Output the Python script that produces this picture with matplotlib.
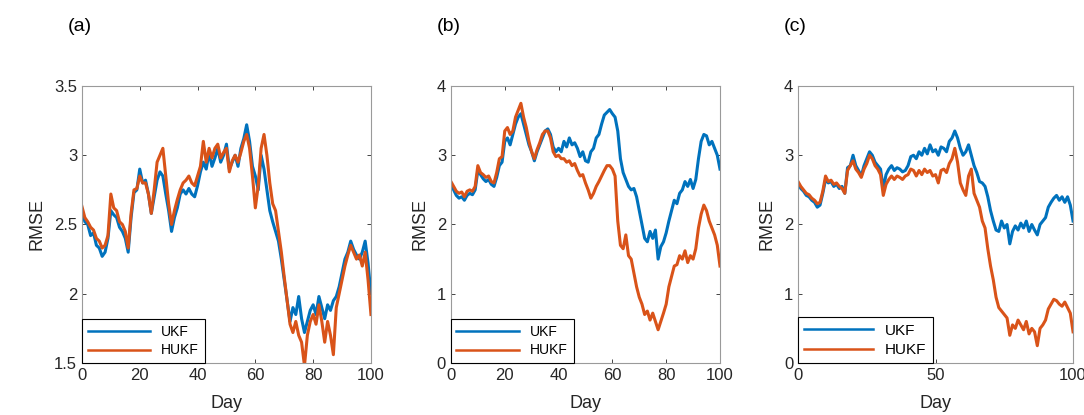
import numpy as np
import matplotlib.pyplot as plt

plt.rcParams['font.family'] = ['Liberation Sans', 'DejaVu Sans']

days = np.arange(0, 101)

# panel (a)
ukf_a = [2.60, 2.52, 2.50, 2.42, 2.44, 2.35, 2.33, 2.27, 2.30, 2.40,
         2.60, 2.57, 2.55, 2.48, 2.45, 2.40, 2.30, 2.55, 2.73, 2.75,
         2.90, 2.80, 2.82, 2.72, 2.58, 2.70, 2.82, 2.88, 2.85, 2.72,
         2.60, 2.45, 2.55, 2.62, 2.72, 2.75, 2.72, 2.76, 2.72, 2.70,
         2.78, 2.88, 2.95, 2.90, 3.02, 2.92, 2.98, 3.05, 2.95, 3.00,
         3.08, 2.90, 2.95, 3.00, 2.92, 3.05, 3.12, 3.22, 3.10, 2.92,
         2.85, 2.75, 3.00, 2.90, 2.75, 2.60, 2.52, 2.45, 2.38, 2.25,
         2.10, 1.95, 1.80, 1.90, 1.85, 1.98, 1.82, 1.72, 1.80, 1.88,
         1.92, 1.85, 1.98, 1.90, 1.82, 1.92, 1.88, 1.95, 1.98, 2.05,
         2.15, 2.25, 2.30, 2.38, 2.32, 2.28, 2.25, 2.30, 2.38, 2.22,
         2.00]
hukf_a = [2.63, 2.55, 2.52, 2.48, 2.46, 2.40, 2.38, 2.33, 2.35, 2.42,
          2.72, 2.62, 2.60, 2.52, 2.50, 2.45, 2.33, 2.58, 2.75, 2.76,
          2.85, 2.80, 2.80, 2.72, 2.58, 2.75, 2.95, 3.00, 3.05, 2.85,
          2.65, 2.50, 2.60, 2.68, 2.75, 2.80, 2.82, 2.85, 2.80, 2.78,
          2.85, 2.92, 3.10, 2.95, 3.05, 2.98, 3.05, 3.08, 2.98, 3.02,
          3.05, 2.88, 2.96, 3.00, 2.95, 3.02, 3.10, 3.15, 3.05, 2.85,
          2.62, 2.78, 3.05, 3.15, 3.00, 2.80, 2.65, 2.60, 2.45, 2.30,
          2.12, 1.95, 1.78, 1.72, 1.80, 1.70, 1.65, 1.48, 1.70, 1.80,
          1.85, 1.78, 1.92, 1.80, 1.65, 1.80, 1.70, 1.56, 1.90, 2.00,
          2.10, 2.20, 2.28, 2.35, 2.30, 2.25, 2.28, 2.20, 2.30, 2.10,
          1.85]

# panel (b)
ukf_b = [2.57, 2.50, 2.42, 2.38, 2.40, 2.35, 2.42, 2.45, 2.43, 2.50,
         2.78, 2.72, 2.66, 2.62, 2.65, 2.58, 2.55, 2.68, 2.85, 2.90,
         3.20, 3.25, 3.15, 3.30, 3.45, 3.55, 3.60, 3.45, 3.30, 3.15,
         3.05, 2.92, 3.05, 3.15, 3.25, 3.35, 3.38, 3.30, 3.12, 3.05,
         3.10, 3.05, 3.20, 3.12, 3.25, 3.15, 3.18, 3.10, 2.98, 3.05,
         2.92, 2.90, 3.05, 3.10, 3.25, 3.30, 3.45, 3.58, 3.62, 3.66,
         3.60, 3.55, 3.35, 2.95, 2.75, 2.65, 2.55, 2.50, 2.52, 2.40,
         2.20, 2.00, 1.80, 1.75, 1.90, 1.80, 1.92, 1.50, 1.68, 1.75,
         1.88, 2.05, 2.20, 2.35, 2.30, 2.45, 2.50, 2.62, 2.55, 2.65,
         2.52, 2.65, 2.95, 3.20, 3.30, 3.28, 3.15, 3.20, 3.10, 3.00,
         2.80]
hukf_b = [2.62, 2.55, 2.48, 2.45, 2.47, 2.40, 2.48, 2.50, 2.48, 2.55,
          2.85, 2.75, 2.72, 2.68, 2.70, 2.62, 2.60, 2.75, 2.95, 2.98,
          3.35, 3.40, 3.30, 3.35, 3.55, 3.65, 3.75, 3.55, 3.40, 3.20,
          3.05, 2.95, 3.08, 3.18, 3.30, 3.35, 3.35, 3.25, 3.05, 2.98,
          3.00, 2.95, 2.95, 2.90, 2.92, 2.85, 2.88, 2.78, 2.70, 2.72,
          2.60, 2.50, 2.38, 2.45, 2.55, 2.62, 2.70, 2.78, 2.85, 2.85,
          2.80, 2.70, 2.05, 1.70, 1.65, 1.85, 1.55, 1.50, 1.30, 1.10,
          0.95, 0.85, 0.70, 0.75, 0.62, 0.72, 0.60, 0.48, 0.60, 0.72,
          0.85, 1.10, 1.25, 1.40, 1.42, 1.55, 1.50, 1.62, 1.45, 1.55,
          1.50, 1.65, 1.95, 2.15, 2.28, 2.20, 2.05, 1.95, 1.85, 1.70,
          1.40]

# panel (c)
ukf_c = [2.60, 2.52, 2.48, 2.42, 2.40, 2.35, 2.32, 2.25, 2.28, 2.45,
         2.65, 2.60, 2.62, 2.55, 2.58, 2.52, 2.55, 2.45, 2.82, 2.85,
         3.00, 2.85, 2.78, 2.70, 2.85, 2.95, 3.05, 3.00, 2.90, 2.85,
         2.80, 2.52, 2.72, 2.80, 2.85, 2.78, 2.82, 2.80, 2.76, 2.78,
         2.85, 2.98, 3.00, 2.95, 3.05, 3.00, 3.10, 3.02, 3.15, 3.05,
         3.08, 3.00, 3.12, 3.10, 3.05, 3.20, 3.25, 3.35, 3.25, 3.10,
         3.00, 3.05, 3.15, 3.00, 2.85, 2.75, 2.62, 2.60, 2.55, 2.40,
         2.20, 2.05, 1.92, 1.90, 2.05, 1.95, 2.00, 1.72, 1.90, 1.98,
         1.92, 2.02, 1.95, 2.05, 1.90, 2.00, 1.92, 1.85, 2.00, 2.05,
         2.10, 2.25, 2.32, 2.38, 2.42, 2.35, 2.40, 2.32, 2.40, 2.28,
         2.05]
hukf_c = [2.62, 2.55, 2.50, 2.45, 2.43, 2.38, 2.35, 2.30, 2.32, 2.48,
          2.70, 2.62, 2.64, 2.58, 2.60, 2.55, 2.52, 2.45, 2.78, 2.85,
          2.92, 2.80, 2.75, 2.68, 2.80, 2.88, 3.00, 2.95, 2.85, 2.80,
          2.72, 2.42, 2.58, 2.65, 2.70, 2.65, 2.70, 2.68, 2.65, 2.70,
          2.72, 2.80, 2.78, 2.70, 2.78, 2.72, 2.80, 2.75, 2.78, 2.70,
          2.72, 2.60, 2.78, 2.80, 2.75, 2.88, 2.95, 3.10, 2.90, 2.60,
          2.50, 2.42, 2.70, 2.80, 2.45, 2.35, 2.25, 2.05, 1.95, 1.65,
          1.40, 1.20, 0.95, 0.80, 0.75, 0.70, 0.65, 0.40, 0.55, 0.50,
          0.62, 0.55, 0.48, 0.60, 0.42, 0.50, 0.45, 0.25, 0.50, 0.55,
          0.62, 0.78, 0.85, 0.92, 0.90, 0.85, 0.82, 0.88, 0.80, 0.72,
          0.45]

ukf_col = '#0072BD'
hukf_col = '#D95319'

fig = plt.figure(figsize=(10.84, 4.15), dpi=100)

panels = [
    ('(a)', [0.0756, 0.1253, 0.2666, 0.6675], ukf_a, hukf_a, (1.5, 3.5), [1.5, 2, 2.5, 3, 3.5], [0, 20, 40, 60, 80, 100], 10),
    ('(b)', [0.4160, 0.1253, 0.2482, 0.6675], ukf_b, hukf_b, (0, 4), [0, 1, 2, 3, 4], [0, 20, 40, 60, 80, 100], 10),
    ('(c)', [0.7362, 0.1253, 0.2537, 0.6675], ukf_c, hukf_c, (0, 4), [0, 1, 2, 3, 4], [0, 50, 100], 11),
]

for lab, pos, u, h, ylim, yt, xt, lfs in panels:
    ax = fig.add_axes(pos)
    ax.plot(days, u, color=ukf_col, lw=2.2, label='UKF')
    ax.plot(days, h, color=hukf_col, lw=2.2, label='HUKF')
    ax.set_xlim(0, 100)
    ax.set_ylim(*ylim)
    ax.set_yticks(yt)
    ax.set_yticklabels([('%g' % v) for v in yt])
    ax.set_xticks(xt)
    ax.tick_params(direction='in', top=True, right=True, labelsize=12,
                   colors='#262626', length=3, width=0.6)
    for s in ax.spines.values():
        s.set_color('#9a9a9a')
        s.set_linewidth(0.8)
    ax.set_xlabel('Day', fontsize=13, color='#262626', labelpad=9)
    ax.set_ylabel('RMSE', fontsize=13, color='#262626', labelpad=6)
    leg = ax.legend(loc='lower left', borderaxespad=0, fancybox=False,
                    edgecolor='black', framealpha=1, fontsize=lfs,
                    handlelength=4.5, borderpad=0.4, labelspacing=0.35)
    leg.get_frame().set_linewidth(0.8)
    for ln in leg.get_lines():
        ln.set_linewidth(1.8)
    fig.text(pos[0] - 0.013, 0.935, lab, fontsize=14, ha='left', va='center')

plt.savefig('out.png', dpi=100)
